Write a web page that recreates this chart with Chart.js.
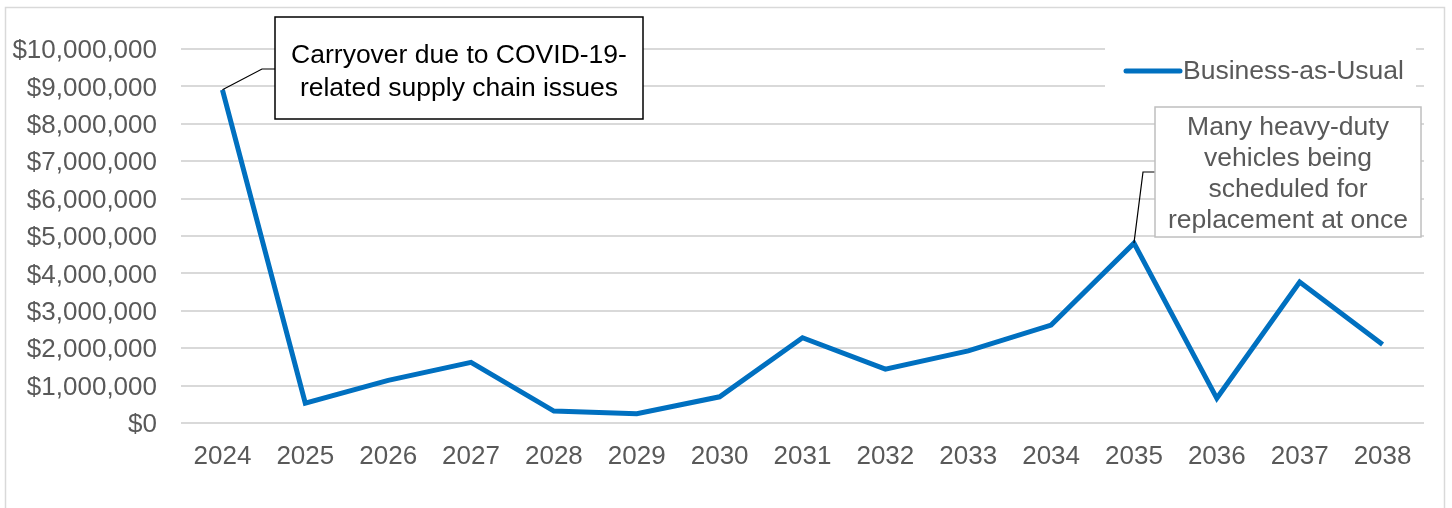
<!DOCTYPE html>
<html>
<head>
<meta charset="utf-8">
<script src="https://cdn.jsdelivr.net/npm/chart.js@4.4.1/dist/chart.umd.min.js"></script>
<style>
  html, body { margin: 0; padding: 0; background: #fff; }
  #wrap { position: relative; width: 1452px; height: 508px; }
</style>
</head>
<body>
<div id="wrap"><canvas id="costChart"></canvas></div>
<script>
// Data
const years = ['2024','2025','2026','2027','2028','2029','2030','2031','2032','2033','2034','2035','2036','2037','2038'];
const bauCosts = [8910000, 530000, 1140000, 1620000, 320000, 250000, 700000, 2280000, 1440000, 1930000, 2620000, 4810000, 660000, 3770000, 2100000];
const seriesLabel = 'Business-as-Usual';
const yMin = 0;
const yMax = 10000000;
const yStep = 1000000;

const covidNote = ['Carryover due to COVID-19-', 'related supply chain issues'];
const fleetNote = ['Many heavy-duty', 'vehicles being', 'scheduled for', 'replacement at once'];

const FONT = '"Liberation Sans", Arial, sans-serif';
const BLUE = '#0070C0';
const GREY_TEXT = '#595959';

function money(v) {
    return '$' + Number(v).toLocaleString('en-US');
}

// outer chart frame
const framePlugin = {
    id: 'frame',
    beforeDraw(chart) {
        const ctx = chart.ctx;
        ctx.save();
        ctx.strokeStyle = '#d9d9d9';
        ctx.lineWidth = 1.5;
        ctx.strokeRect(5.5, 7.5, 1439, 520);
        ctx.restore();
    }
};

// legend + callout boxes
function drawCallout(ctx, lines, box, anchor, elbow, opts) {
    ctx.save();
    // leader line
    ctx.strokeStyle = '#000';
    ctx.lineWidth = 1.2;
    ctx.beginPath();
    ctx.moveTo(anchor.x, anchor.y);
    ctx.lineTo(elbow.x, elbow.y);
    ctx.lineTo(box.x, elbow.y);
    ctx.stroke();
    // box
    ctx.fillStyle = '#fff';
    ctx.fillRect(box.x, box.y, box.w, box.h);
    ctx.strokeStyle = opts.border;
    ctx.lineWidth = opts.borderWidth;
    ctx.strokeRect(box.x, box.y, box.w, box.h);
    // text
    ctx.fillStyle = opts.color;
    ctx.font = opts.font;
    ctx.textAlign = 'center';
    ctx.textBaseline = 'middle';
    lines.forEach((t, i) => {
        ctx.fillText(t, box.x + box.w / 2, opts.firstY + i * opts.lineGap);
    });
    ctx.restore();
}

const notesPlugin = {
    id: 'notes',
    afterDraw(chart) {
        const ctx = chart.ctx;
        const meta = chart.getDatasetMeta(0);

        // legend
        ctx.save();
        ctx.fillStyle = '#fff';
        ctx.fillRect(1105, 44, 311, 52);
        ctx.strokeStyle = BLUE;
        ctx.lineWidth = 5;
        ctx.lineCap = 'round';
        ctx.beginPath();
        ctx.moveTo(1126, 71);
        ctx.lineTo(1180, 71);
        ctx.stroke();
        ctx.fillStyle = GREY_TEXT;
        ctx.font = '26.5px ' + FONT;
        ctx.textAlign = 'left';
        ctx.textBaseline = 'middle';
        ctx.fillText(seriesLabel, 1183, 72);
        ctx.restore();

        const p0 = meta.data[0];
        drawCallout(ctx, covidNote,
            { x: 275, y: 17, w: 368, h: 102 },
            { x: p0.x, y: p0.y }, { x: 262, y: 69 },
            { border: '#000', borderWidth: 1.5, color: '#000', font: '26.5px ' + FONT, firstY: 56, lineGap: 33 });

        const p11 = meta.data[11];
        drawCallout(ctx, fleetNote,
            { x: 1155, y: 107, w: 266, h: 130 },
            { x: p11.x, y: p11.y }, { x: 1143, y: 172 },
            { border: '#bfbfbf', borderWidth: 1.5, color: GREY_TEXT, font: '26.5px ' + FONT, firstY: 128, lineGap: 31 });
    }
};

const ctx = document.getElementById('costChart').getContext('2d');
new Chart(ctx, {
    type: 'line',
    data: {
        labels: years,
        datasets: [{
            label: seriesLabel,
            data: bauCosts,
            borderColor: BLUE,
            backgroundColor: BLUE,
            borderWidth: 5,
            pointRadius: 0,
            tension: 0,
            fill: false,
            borderJoinStyle: 'miter'
        }]
    },
    options: {
        responsive: true,
        maintainAspectRatio: false,
        animation: false,
        devicePixelRatio: 1,
        layout: { padding: { left: 0, top: 49, right: 28, bottom: 0 } },
        plugins: {
            legend: { display: false },
            tooltip: { enabled: false }
        },
        scales: {
            x: {
                offset: true,
                grid: { display: false, drawTicks: false },
                border: { display: false },
                ticks: { color: GREY_TEXT, font: { family: FONT, size: 26 }, padding: 18, maxRotation: 0 },
                afterFit(axis) { axis.height = 85; }
            },
            y: {
                min: yMin,
                max: yMax,
                grid: { color: '#d9d9d9', lineWidth: 2, drawTicks: false },
                border: { display: false },
                ticks: {
                    stepSize: yStep,
                    color: GREY_TEXT,
                    font: { family: FONT, size: 26 },
                    padding: 24,
                    labelOffset: 2,
                    callback: v => money(v)
                },
                afterFit(axis) { axis.width = 181; }
            }
        }
    },
    plugins: [framePlugin, notesPlugin]
});
</script>
</body>
</html>
